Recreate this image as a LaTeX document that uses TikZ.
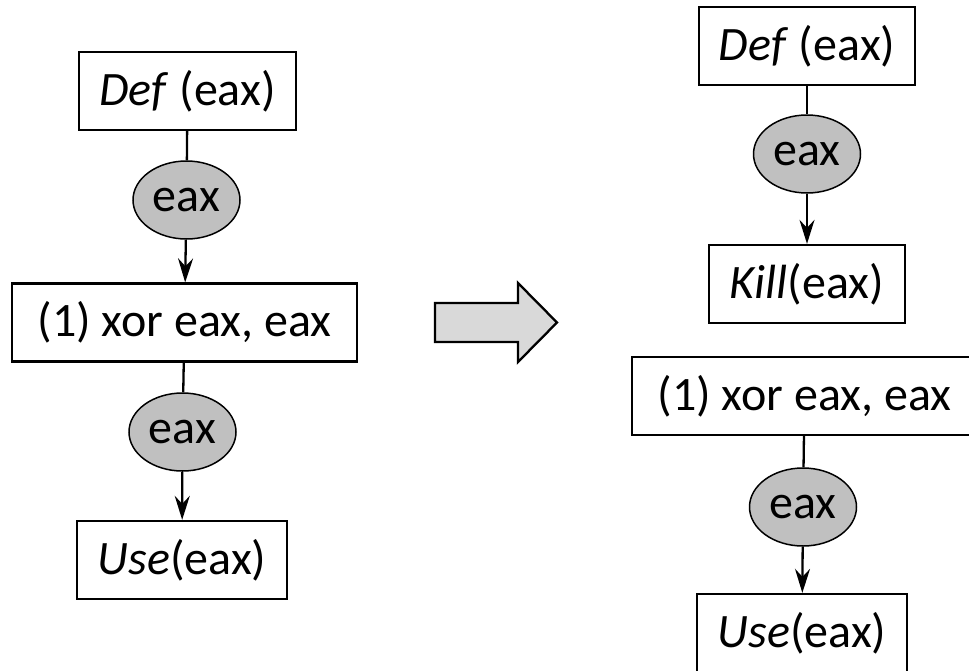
\documentclass[tikz,border=0pt]{standalone}
\usepackage{fontspec}
\setmainfont{Carlito}
\usetikzlibrary{arrows.meta,shapes.geometric}

\definecolor{regfill}{RGB}{192,192,192}
\definecolor{bigarrowfill}{RGB}{217,217,217}

\tikzset{
  stmt/.style={draw=black, line width=2.3pt, fill=white, rectangle, inner sep=0pt,
    minimum height=78pt, font=\fontsize{48}{57}\selectfont},
  reg/.style={draw=black, line width=1.5pt, fill=regfill, ellipse, inner sep=0pt,
    minimum width=107pt, minimum height=78pt, font=\fontsize{48}{57}\selectfont},
  link/.style={line width=2.3pt},
  flow/.style={line width=2.3pt, -{Stealth[length=24pt,width=15pt,inset=8pt]}},
}

\begin{document}
\begin{tikzpicture}[x=1pt, y=-1pt]
  \useasboundingbox (0,0) rectangle (969,670);
  \clip (0,0) rectangle (969,670);

  % original sequence
  \node[stmt, minimum width=217pt] (defL) at (187.5,91) {\textit{Def} (eax)};
  \node[reg] (regL1) at (186.5,200) {eax};
  \node[stmt, minimum width=345pt] (xorL) at (184.5,322.5) {(1) xor eax, eax\hspace{6pt}};
  \node[reg] (regL2) at (182.5,432) {eax};
  \node[stmt, minimum width=210pt] (useL) at (182,560) {\textit{Use}(eax)};

  \draw[link] (defL) -- (regL1);
  \draw[flow] (regL1) -- (xorL);
  \draw[link] (xorL) -- (regL2);
  \draw[flow] (regL2) -- (useL);

  % transformation arrow
  \draw[line width=2.3pt, fill=bigarrowfill, line join=miter]
    (435,303) -- (518,303) -- (518,283) -- (557,322.5) -- (518,362) -- (518,342) -- (435,342) -- cycle;

  % rewritten sequence
  \node[stmt, minimum width=216pt] (defR) at (807,46) {\textit{Def} (eax)};
  \node[reg] (regR1) at (807,154) {eax};
  \node[stmt, minimum width=196pt] (killR) at (807,284) {\textit{Kill}(eax)};
  \node[stmt, minimum width=345pt] (xorR) at (804.5,396) {(1) xor eax, eax\hspace{6pt}};
  \node[reg] (regR2) at (803,507) {eax};
  \node[stmt, minimum width=210pt] (useR) at (802,633) {\textit{Use}(eax)};

  \draw[link] (defR) -- (regR1);
  \draw[flow] (regR1) -- (killR);
  \draw[link] (xorR) -- (regR2);
  \draw[flow] (regR2) -- (useR);
\end{tikzpicture}
\end{document}
